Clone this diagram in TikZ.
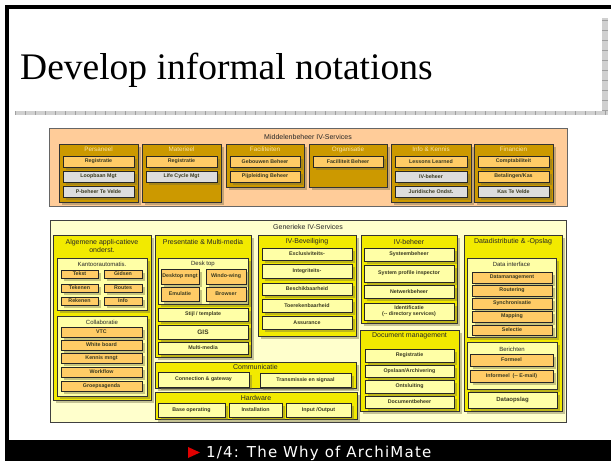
\documentclass[tikz,border=0pt]{standalone}
\usepackage{fontspec}
\setmainfont{Liberation Serif}
\newfontfamily\dfont{Liberation Sans}
\newfontfamily\barfont[LetterSpace=8]{DejaVu Sans}
\usetikzlibrary{shadows}
\definecolor{peach}{HTML}{FFCC99}
\definecolor{gold}{HTML}{CC9900}
\definecolor{orng}{HTML}{FFCC66}
\definecolor{lgray}{HTML}{DDDDDD}
\definecolor{ylw}{HTML}{F2EA00}
\definecolor{lylw}{HTML}{FFFFA6}
\definecolor{pale}{HTML}{FFFFCC}
\definecolor{txt}{HTML}{3A3A20}
\definecolor{coltxt}{HTML}{FBE3A8}
\definecolor{barred}{HTML}{E00000}
\definecolor{rulec}{HTML}{D0D0D0}
\definecolor{ruled}{HTML}{A0A0A0}
\definecolor{shadc}{HTML}{6E6A40}
\tikzset{
 base/.style={rectangle, inner sep=0pt, outer sep=0pt},
 shad/.style={drop shadow={shadow xshift=2.5pt, shadow yshift=-2.5pt, fill=shadc, opacity=0.4}},
 outerbox/.style={base, fill=peach, draw=black!60, line width=0.8pt},
 outerY/.style={base, fill=pale, draw=black!75, line width=0.8pt},
 colbox/.style={base, fill=gold, draw=black!80, line width=0.8pt, shad},
 grp/.style={base, fill=ylw, draw=black!80, line width=0.8pt, shad},
 sub/.style={base, fill=lylw, draw=black!80, line width=0.8pt, shad},
 ob/.style={base, fill=orng, draw=black!85, line width=0.8pt, shad, align=center, font=\dfont\bfseries\fontsize{5.3}{6.2}\selectfont, text=txt},
 gb/.style={ob, fill=lgray},
 yb/.style={ob, fill=lylw},
 gtitle/.style={font=\dfont\fontsize{7}{8}\selectfont, text=black!85, inner sep=0pt, align=center},
 stitle/.style={font=\dfont\fontsize{6}{7}\selectfont, text=black!85, inner sep=0pt},
 ctitle/.style={font=\dfont\fontsize{6.3}{7}\selectfont, text=coltxt, inner sep=0pt},
}
\newcommand\bx[7]{\node[#6, minimum width={#4-#2}, minimum height={#5-#3}] (#1) at ({(#2+#4)/2},{(#3+#5)/2}) {#7};}
\begin{document}
\begin{tikzpicture}[x=1pt,y=-1pt]
\useasboundingbox (0,0) rectangle (611,461);
\fill[white] (0,0) rectangle (611,461);
% slide frame
\fill[black] (5,5) rectangle (611,9);
\fill[black] (5,5) rectangle (9,440);
\fill[black] (5,440) rectangle (611,461);
% rulers
\fill[rulec] (15,111) rectangle (608,115);
\fill[rulec] (602,18) rectangle (608,115);
\foreach \i in {0,...,59} {\draw[ruled, line width=0.6pt] ({15+10*\i},111) -- ({15+10*\i},115);}
\foreach \j in {0,...,9} {\draw[ruled, line width=0.6pt] (602,{20+10*\j}) -- (608,{20+10*\j});}
% title
\node[anchor=base west, inner sep=0pt, font=\fontsize{37.5}{40}\selectfont] (title) at (20,79) {Develop informal notations};
% footer
\fill[barred] (188,447) -- (200,452.5) -- (188,458) -- cycle;
\node[anchor=base west, inner sep=0pt, text=white, font=\barfont\fontsize{15}{17}\selectfont] (foot) at (206,457.5) {1/4: The Why of ArchiMate};

% ===== Middelenbeheer =====
\bx{mid}{49}{128}{567}{206}{outerbox}{}
\node[gtitle] (midt) at (308,137) {Middelenbeheer IV-Services};
\bx{c1}{59}{144}{138}{202}{colbox}{}
\bx{c2}{142}{144}{221}{202}{colbox}{}
\bx{c3}{226}{144}{304}{187}{colbox}{}
\bx{c4}{309}{144}{387}{187}{colbox}{}
\bx{c5}{391}{144}{471}{202}{colbox}{}
\bx{c6}{474}{144}{553}{202}{colbox}{}
\node[ctitle] (c1t) at (98.5,149.5) {Persaneel};
\node[ctitle] (c2t) at (181.5,149.5) {Materieel};
\node[ctitle] (c3t) at (265,149.5) {Faciliteiten};
\node[ctitle] (c4t) at (348,149.5) {Organisatie};
\node[ctitle] (c5t) at (431,149.5) {Info \& Kennis};
\node[ctitle] (c6t) at (513.5,149.5) {Financien};
\bx{m11}{63}{156}{134}{167}{ob}{Registratie}
\bx{m12}{63}{171}{134}{182}{gb}{Loopbaan Mgt}
\bx{m13}{63}{186}{134}{197}{gb}{P-beheer Te Velde}
\bx{m21}{146}{156}{217}{167}{ob}{Registratie}
\bx{m22}{146}{171}{217}{182}{gb}{Life Cycle Mgt}
\bx{m31}{230}{156}{300}{167}{ob}{Gebouwen Beheer}
\bx{m32}{230}{171}{300}{182}{ob}{Pijpleiding Beheer}
\bx{m41}{313}{156}{383}{167}{ob}{Facilliteit Beheer}
\bx{m51}{395}{156}{467}{167}{ob}{Lessons Learned}
\bx{m52}{395}{171}{467}{182}{gb}{IV-beheer}
\bx{m53}{395}{186}{467}{197}{gb}{Juridische Ondst.}
\bx{m61}{478}{156}{549}{167}{ob}{Comptabiliteit}
\bx{m62}{478}{171}{549}{182}{ob}{Betalingen/Kas}
\bx{m63}{478}{186}{549}{197}{gb}{Kas Te Velde}

% ===== Generieke =====
\bx{gen}{50}{220}{566}{422}{outerY}{}
\node[gtitle] (gent) at (308,227) {Generieke IV-Services};

% Algemene
\bx{alg}{53}{235}{151}{400}{grp}{}
\node[gtitle] (algt) at (102,245.5) {Algemene appli-catieve\\onderst.};
\bx{kan}{57}{258}{147}{310}{sub}{}
\node[stitle] (kant) at (102,264) {Kantoorautomatis.};
\bx{k1}{61}{270}{98}{278}{ob}{Tekst}
\bx{k2}{104}{270}{142}{278}{ob}{Gidsen}
\bx{k3}{61}{284}{98}{292}{ob}{Tekenen}
\bx{k4}{104}{284}{142}{292}{ob}{Routes}
\bx{k5}{61}{297}{98}{305}{ob}{Rekenen}
\bx{k6}{104}{297}{142}{305}{ob}{Info}
\bx{col}{57}{316}{147}{396}{sub}{}
\node[stitle] (colt) at (102,322) {Collaboratie};
\bx{l1}{61}{327}{142}{337}{ob}{VTC}
\bx{l2}{61}{340}{142}{350}{ob}{White board}
\bx{l3}{61}{353}{142}{363}{ob}{Kennis mngt}
\bx{l4}{61}{367}{142}{377}{ob}{Workflow}
\bx{l5}{61}{381}{142}{391}{ob}{Groepsagenda}

% Presentatie
\bx{pre}{155}{235}{251}{357}{grp}{}
\node[gtitle] (pret) at (203,242) {Presentatie \& Multi-media};
\bx{dtp}{158}{258}{248}{304}{sub}{}
\node[stitle] (dtpt) at (203,263.5) {Desk top};
\bx{d1}{161}{269}{199}{284}{ob}{Desktop mngt}
\bx{d2}{206}{269}{246}{284}{ob}{Windo-wing}
\bx{d3}{161}{287}{199}{301}{ob}{Emulatie}
\bx{d4}{206}{287}{246}{301}{ob}{Browser}
\bx{p1}{158}{308}{248}{321}{yb}{Stijl / template}
\bx{p2}{158}{325}{248}{339}{yb}{\fontsize{6.5}{7}\selectfont GIS}
\bx{p3}{158}{342}{248}{354}{yb}{Multi-media}

% IV-Beveiliging
\bx{bev}{258}{235}{356}{336}{grp}{}
\node[gtitle] (bevt) at (307,241.5) {IV-Beveiliging};
\bx{b1}{262}{248}{352}{260}{yb}{Exclusiviteits-}
\bx{b2}{262}{264}{352}{278}{yb}{Integriteits-}
\bx{b3}{262}{283}{352}{295}{yb}{Beschikbaarheid}
\bx{b4}{262}{299}{352}{312}{yb}{Toerekenbaarheid}
\bx{b5}{262}{316}{352}{329}{yb}{Assurance}

% IV-beheer
\bx{ivb}{361}{235}{457}{323}{grp}{}
\node[gtitle] (ivbt) at (409,241.5) {IV-beheer};
\bx{i1}{364}{248}{454}{261}{yb}{Systeembeheer}
\bx{i2}{364}{265}{454}{282}{yb}{System profile inspector}
\bx{i3}{364}{285}{454}{298}{yb}{Netwerkbeheer}
\bx{i4}{364}{303}{454}{320}{yb}{Identificatie\\(-- directory services)}

% Document management
\bx{doc}{360}{330}{459}{411}{grp}{}
\node[gtitle] (doct) at (409.5,336) {Document management};
\bx{o1}{365}{349}{454}{362}{yb}{Registratie}
\bx{o2}{365}{365}{454}{377}{yb}{Opslaan/Archivering}
\bx{o3}{365}{380}{454}{393}{yb}{Ontsluiting}
\bx{o4}{365}{396}{454}{408}{yb}{Documentbeheer}

% Communicatie
\bx{com}{155}{362}{356}{388}{grp}{}
\node[gtitle] (comt) at (255.5,367) {Communicatie};
\bx{cm1}{158}{372}{249}{387}{yb}{Connection \& gateway}
\bx{cm2}{260}{373}{351}{387}{yb}{Transmissie en signaal}

% Hardware
\bx{hw}{155}{392}{357}{419}{grp}{}
\node[gtitle] (hwt) at (256,397.5) {Hardware};
\bx{h1}{158}{403}{225}{417}{yb}{Base operating}
\bx{h2}{229}{403}{282}{417}{yb}{Installation}
\bx{h3}{286}{403}{351}{417}{yb}{Input /Output}

% Datadistributie
\bx{dd}{464}{235}{562}{411}{grp}{}
\node[gtitle] (ddt) at (513,241.5) {Datadistributie \& -Opslag};
\bx{di}{467}{258}{556}{337}{sub}{}
\node[stitle] (dit) at (511.5,264) {Data interface};
\bx{x1}{472}{272}{552}{283}{ob}{Datamanagement}
\bx{x2}{472}{285}{552}{296}{ob}{Routering}
\bx{x3}{472}{298}{552}{309}{ob}{Synchronisatie}
\bx{x4}{472}{311}{552}{322}{ob}{Mapping}
\bx{x5}{472}{325}{552}{335}{ob}{Selectie}
\bx{ber}{467}{342}{557}{389}{sub}{}
\node[stitle] (bert) at (512,349) {Berichten};
\bx{e1}{470}{354}{553}{366}{ob}{Formeel}
\bx{e2}{470}{370}{553}{382}{ob}{Informeel \ (-- E-mail)}
\bx{dop}{468}{392}{557}{408}{yb}{\fontsize{6}{7}\selectfont Dataopslag}
\end{tikzpicture}
\end{document}
